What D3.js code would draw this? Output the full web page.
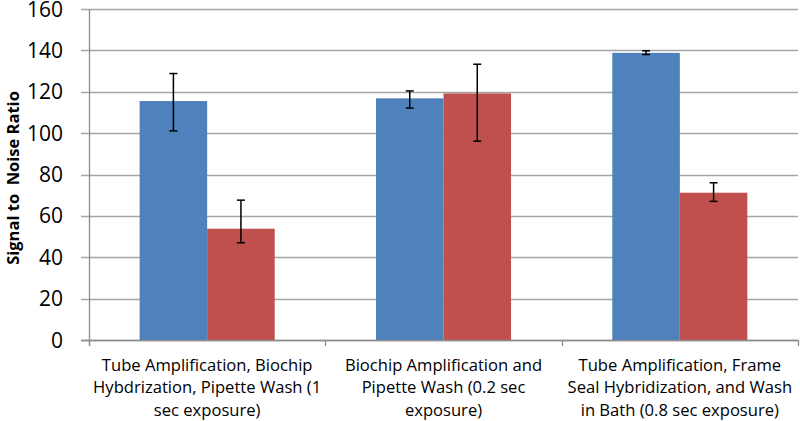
<!DOCTYPE html>
<html><head><meta charset="utf-8">
<script src="https://cdn.jsdelivr.net/npm/d3@7"></script>
<style>body{margin:0;background:#fff}svg{display:block}</style>
</head><body>
<svg id="c" width="800" height="421"></svg>
<script>
const categories = [
  ["Tube Amplification, Biochip", "Hybdrization, Pipette Wash (1", "sec exposure)"],
  ["Biochip Amplification and", "Pipette Wash (0.2 sec", "exposure)"],
  ["Tube Amplification, Frame", "Seal Hybridization, and Wash", "in Bath (0.8 sec exposure)"]
];
const seriesNames = ["Series 1", "Series 2"];
const series1 = [115.5, 116.8, 138.8];
const series1ErrLow = [101.1, 112.1, 138.0];
const series1ErrHigh = [128.8, 120.4, 139.8];
const series2 = [53.8, 119.2, 71.2];
const series2ErrLow = [47.0, 96.1, 67.0];
const series2ErrHigh = [67.6, 133.3, 76.0];
const yTicks = [0, 20, 40, 60, 80, 100, 120, 140, 160];
const yTitle = "Signal to  Noise Ratio";
const colors = ["#4F81BD", "#C0504D"];

const svg = d3.select("#c");
const m = {left: 89, right: 798, top: 9, bottom: 340};
const y = d3.scaleLinear().domain([0, 160]).range([m.bottom, m.top]);
const x0 = d3.scaleBand().domain(d3.range(categories.length)).range([m.left, m.right]).paddingInner(0).paddingOuter(0);
const bw = x0.bandwidth() / 3.5;
const x1 = d3.scaleBand().domain([0, 1]).range([0.75 * bw, 2.75 * bw]).padding(0);

// grid
svg.append("g").selectAll("line").data(yTicks).join("line")
  .attr("x1", m.left - 8).attr("x2", m.right)
  .attr("y1", d => Math.round(y(d)) + 0.5).attr("y2", d => Math.round(y(d)) + 0.5)
  .attr("stroke", "#A6A6A6").attr("stroke-width", 1.3);

// y labels
svg.append("g").selectAll("text").data(yTicks).join("text")
  .attr("x", 63).attr("y", d => y(d)).attr("dy", "0.36em")
  .attr("text-anchor", "end").attr("font-family", "Open Sans").attr("font-size", 21)
  .attr("fill", "#000").text(d => d);

// bars
const rows = [
  {v: series1, lo: series1ErrLow, hi: series1ErrHigh},
  {v: series2, lo: series2ErrLow, hi: series2ErrHigh}
];
rows.forEach((r, s) => {
  const g = svg.append("g");
  g.selectAll("rect").data(r.v).join("rect")
    .attr("x", (d, i) => x0(i) + x1(s)).attr("width", x1.bandwidth())
    .attr("y", d => y(d)).attr("height", d => y(0) - y(d))
    .attr("fill", colors[s]);
});
rows.forEach((r, s) => {
  const g = svg.append("g").attr("stroke", "#000").attr("stroke-width", 1.5);
  r.v.forEach((d, i) => {
    const cx = x0(i) + x1(s) + x1.bandwidth() / 2;
    g.append("line").attr("x1", cx).attr("x2", cx).attr("y1", y(r.lo[i])).attr("y2", y(r.hi[i]));
    g.append("line").attr("x1", cx - 4).attr("x2", cx + 4).attr("y1", y(r.lo[i])).attr("y2", y(r.lo[i]));
    g.append("line").attr("x1", cx - 4).attr("x2", cx + 4).attr("y1", y(r.hi[i])).attr("y2", y(r.hi[i]));
  });
});

// axes
svg.append("line").attr("x1", m.left + 0.5).attr("x2", m.left + 0.5).attr("y1", m.top).attr("y2", m.bottom + 6)
  .attr("stroke", "#8C8C8C").attr("stroke-width", 1.3);
svg.append("line").attr("x1", m.left - 8).attr("x2", m.right).attr("y1", m.bottom + 0.5).attr("y2", m.bottom + 0.5)
  .attr("stroke", "#8C8C8C").attr("stroke-width", 1.3);
const edges = d3.range(categories.length + 1).map(i => i < categories.length ? x0(i) : m.right);
svg.append("g").selectAll("line").data(edges).join("line")
  .attr("x1", d => Math.round(d) + 0.5).attr("x2", d => Math.round(d) + 0.5)
  .attr("y1", m.bottom).attr("y2", m.bottom + 6).attr("stroke", "#8C8C8C").attr("stroke-width", 1.3);

// category labels
const cl = svg.append("g").attr("font-family", "Open Sans").attr("font-size", 16.6).attr("fill", "#000").attr("text-anchor", "middle");
categories.forEach((lines, i) => {
  const t = cl.append("text").attr("x", x0(i) + x0.bandwidth() / 2).attr("y", 371);
  lines.forEach((ln, k) => t.append("tspan").attr("x", x0(i) + x0.bandwidth() / 2).attr("dy", k ? 22.3 : 0).text(ln));
});

// y title
svg.append("text").attr("transform", "translate(19,178) rotate(-90)")
  .attr("text-anchor", "middle").attr("font-family", "Open Sans").attr("font-weight", "bold")
  .attr("font-size", 16.5).attr("fill", "#000").style("white-space", "pre").text(yTitle);
</script>
</body></html>
